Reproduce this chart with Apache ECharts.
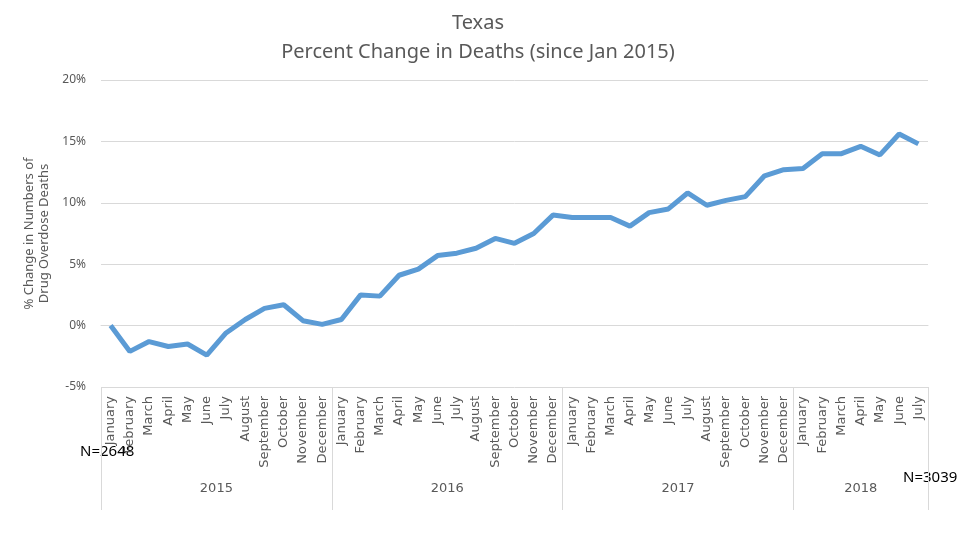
<!DOCTYPE html>
<html><head><meta charset="utf-8">
<script src="https://cdn.jsdelivr.net/npm/echarts@6/dist/echarts.min.js"></script>
<style>html,body{margin:0;padding:0;background:#fff}#c{width:960px;height:540px}</style>
</head><body><div id="c"></div>
<script>
var months = ['January','February','March','April','May','June','July','August','September','October','November','December',
  'January','February','March','April','May','June','July','August','September','October','November','December',
  'January','February','March','April','May','June','July','August','September','October','November','December',
  'January','February','March','April','May','June','July'];
var pctChange = [0, -2.1, -1.3, -1.7, -1.5, -2.4, -0.6, 0.5, 1.4, 1.7, 0.4, 0.1,
  0.5, 2.5, 2.4, 4.1, 4.6, 5.7, 5.9, 6.3, 7.1, 6.7, 7.5, 9.0,
  8.8, 8.8, 8.8, 8.1, 9.2, 9.5, 10.8, 9.8, 10.2, 10.5, 12.2, 12.7,
  12.8, 14.0, 14.0, 14.6, 13.9, 15.6, 14.8];
var years = ['2015','2016','2017','2018'];
var yearStarts = [0, 12, 24, 36];
var yearCounts = [12, 12, 12, 7];
var yTicks = [-5, 0, 5, 10, 15, 20];

var boundaries = yearStarts.map(function(s){return s - 0.5;}).concat([months.length - 0.5]);
var centers = yearStarts.map(function(s,i){return s + (yearCounts[i]-1)/2;});

var chart = echarts.init(document.getElementById('c'));
var grey = '#d9d9d9', txt = '#595959';
chart.setOption({
  animation: false,
  title: {
    text: 'Texas\nPercent Change in Deaths (since Jan 2015)',
    left: 473, top: 4, textAlign: 'center',
    textStyle: {fontFamily: 'Noto Sans', fontSize: 20, fontWeight: 'normal', color: txt, lineHeight: 29}
  },
  grid: {left: 101, right: 32, top: 80, bottom: 153},
  xAxis: [{
    type: 'category', data: months, boundaryGap: true,
    axisLine: {show: true, lineStyle: {color: grey}},
    axisTick: {show: false},
    axisLabel: {interval: 0, rotate: 90, margin: 9, color: txt, fontFamily: 'DejaVu Sans', fontSize: 13}
  }, {
    type: 'value', position: 'bottom', min: -0.5, max: months.length - 0.5,
    axisLine: {show: false},
    splitLine: {show: false},
    axisTick: {show: true, customValues: boundaries, length: 123, lineStyle: {color: grey}},
    axisLabel: {customValues: centers, margin: 95, color: txt, fontFamily: 'DejaVu Sans', fontSize: 13,
      formatter: function(v){ var i = centers.indexOf(v); return i >= 0 ? years[i] : ''; }}
  }],
  yAxis: {
    type: 'value', min: yTicks[0], max: yTicks[yTicks.length-1], interval: 5,
    name: '% Change in Numbers of\nDrug Overdose Deaths',
    nameLocation: 'middle', nameRotate: 90, nameGap: 41,
    nameTextStyle: {fontFamily: 'Noto Sans', fontSize: 13, color: txt, lineHeight: 15},
    axisLine: {show: false}, axisTick: {show: false},
    axisLabel: {formatter: '{value}%', color: txt, fontFamily: 'Noto Sans', fontSize: 12, margin: 15},
    splitLine: {lineStyle: {color: grey}}
  },
  graphic: [
    {type: 'text', left: 80, top: 444, style: {text: 'N=2648', fontFamily: 'Noto Sans', fontSize: 15, fill: '#000'}},
    {type: 'text', left: 903, top: 470, style: {text: 'N=3039', fontFamily: 'Noto Sans', fontSize: 15, fill: '#000'}}
  ],
  series: [{
    type: 'line', xAxisIndex: 0, data: pctChange, showSymbol: false, symbol: 'none',
    lineStyle: {color: '#5B9BD5', width: 5}, itemStyle: {color: '#5B9BD5'}
  }]
});
</script></body></html>
